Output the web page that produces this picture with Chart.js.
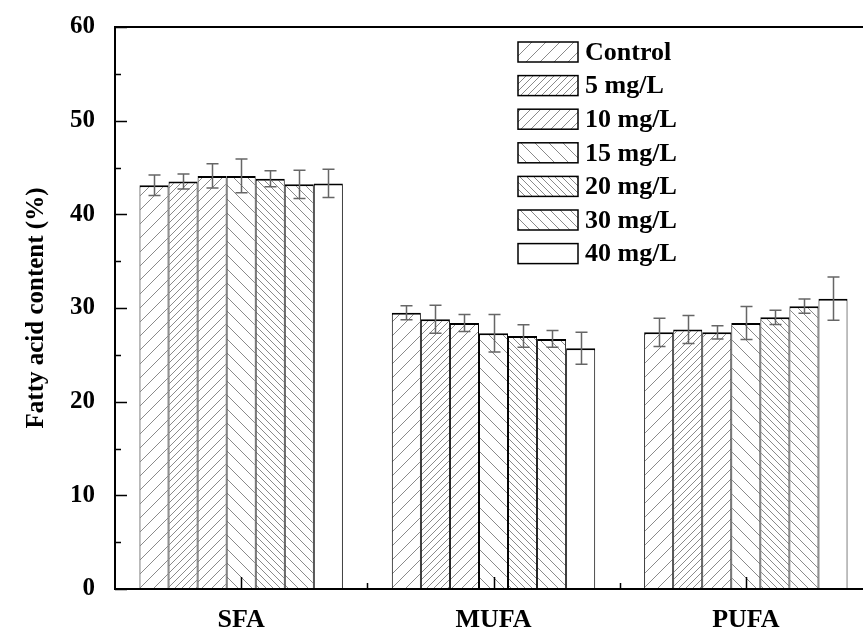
<!DOCTYPE html>
<html>
<head>
<meta charset="utf-8">
<script src="https://cdn.jsdelivr.net/npm/chart.js@4/dist/chart.umd.min.js"></script>
<style>
  html, body { margin: 0; padding: 0; background: #fff; overflow: hidden; }
  canvas { display: block; }
</style>
</head>
<body>
<canvas id="fattyChart" width="880" height="633"></canvas>
<script>
// data
const categories = ['SFA', 'MUFA', 'PUFA'];
const seriesLabels = ['Control', '5 mg/L', '10 mg/L', '15 mg/L', '20 mg/L', '30 mg/L', '40 mg/L'];

const controlMean = [43.1, 29.5, 27.4];
const mg5Mean     = [43.5, 28.8, 27.7];
const mg10Mean    = [44.1, 28.4, 27.4];
const mg15Mean    = [44.1, 27.3, 28.4];
const mg20Mean    = [43.8, 27.0, 29.0];
const mg30Mean    = [43.2, 26.7, 30.2];
const mg40Mean    = [43.3, 25.7, 31.0];

const controlErr = [1.1, 0.75, 1.5];
const mg5Err     = [0.8, 1.5, 1.5];
const mg10Err    = [1.3, 0.9, 0.7];
const mg15Err    = [1.8, 2.0, 1.75];
const mg20Err    = [0.85, 1.2, 0.75];
const mg30Err    = [1.5, 0.9, 0.75];
const mg40Err    = [1.5, 1.7, 2.3];

const means = [controlMean, mg5Mean, mg10Mean, mg15Mean, mg20Mean, mg30Mean, mg40Mean];
const errs = [controlErr, mg5Err, mg10Err, mg15Err, mg20Err, mg30Err, mg40Err];

// hatch: direction and spacing (px), null = plain white
const hatches = [['/', 14], ['/', 7], ['/', 10], ['\\', 14], ['\\', 7], ['\\', 10], null];

function makeHatch(dir, s) {
    const c = document.createElement('canvas');
    c.width = s; c.height = s;
    const g = c.getContext('2d');
    g.fillStyle = '#fff';
    g.fillRect(0, 0, s, s);
    g.strokeStyle = '#8a8a8a';
    g.lineWidth = 1;
    g.beginPath();
    if (dir === '/') {
        g.moveTo(0, s); g.lineTo(s, 0);
        g.moveTo(-2, 2); g.lineTo(2, -2);
        g.moveTo(s - 2, s + 2); g.lineTo(s + 2, s - 2);
    } else {
        g.moveTo(0, 0); g.lineTo(s, s);
        g.moveTo(-2, s - 2); g.lineTo(2, s + 2);
        g.moveTo(s - 2, -2); g.lineTo(s + 2, 2);
    }
    g.stroke();
    return g.createPattern(c, 'repeat');
}

const FONT = '"Liberation Serif", "Times New Roman", serif';

const frameAndTicks = {
    id: 'frameAndTicks',
    afterDraw(chart) {
        const ctx = chart.ctx;
        const a = chart.chartArea;
        const ys = chart.scales.y, xs = chart.scales.x;
        ctx.save();
        ctx.strokeStyle = '#000';
        ctx.lineWidth = 2;
        ctx.strokeRect(a.left, a.top, a.right - a.left, a.bottom - a.top);
        ctx.lineWidth = 1.5;
        ctx.beginPath();
        // y ticks, pointing inward
        for (let v = 0; v <= 60; v += 5) {
            const py = Math.round(ys.getPixelForValue(v)) + 0.5;
            const len = v % 10 === 0 ? 12 : 6;
            ctx.moveTo(a.left, py); ctx.lineTo(a.left + len, py);
        }
        // x ticks, major at categories, minor in between
        for (let i = 0; i < categories.length; i++) {
            const px = Math.round(xs.getPixelForValue(i)) + 0.5;
            ctx.moveTo(px, a.bottom); ctx.lineTo(px, a.bottom - 12);
            if (i < categories.length - 1) {
                const mx = Math.round(xs.getPixelForValue(i + 0.5)) + 0.5;
                ctx.moveTo(mx, a.bottom); ctx.lineTo(mx, a.bottom - 6);
            }
        }
        ctx.stroke();
        ctx.restore();
    }
};

const errorBars = {
    id: 'errorBars',
    afterDatasetsDraw(chart) {
        const ctx = chart.ctx;
        const ys = chart.scales.y;
        ctx.save();
        ctx.strokeStyle = '#666';
        ctx.lineWidth = 1.5;
        chart.data.datasets.forEach((ds, di) => {
            const meta = chart.getDatasetMeta(di);
            meta.data.forEach((bar, i) => {
                const x = Math.round(bar.x) + 0.5;
                const hi = ys.getPixelForValue(ds.data[i] + errs[di][i]);
                const lo = ys.getPixelForValue(ds.data[i] - errs[di][i]);
                ctx.beginPath();
                ctx.moveTo(x, hi); ctx.lineTo(x, lo);
                ctx.moveTo(x - 6, hi); ctx.lineTo(x + 6, hi);
                ctx.moveTo(x - 6, lo); ctx.lineTo(x + 6, lo);
                ctx.stroke();
            });
        });
        ctx.restore();
    }
};

const boxLegend = {
    id: 'boxLegend',
    afterDraw(chart) {
        const ctx = chart.ctx;
        ctx.save();
        ctx.font = 'bold 26px ' + FONT;
        ctx.textBaseline = 'middle';
        chart.data.datasets.forEach((ds, i) => {
            const cy = 52 + i * 33.6;
            ctx.fillStyle = ds.backgroundColor;
            ctx.fillRect(518, cy - 10, 60, 20);
            ctx.strokeStyle = '#000';
            ctx.lineWidth = 1.5;
            ctx.strokeRect(518, cy - 10, 60, 20);
            ctx.fillStyle = '#000';
            ctx.fillText(ds.label, 585, cy + 1);
        });
        ctx.restore();
    }
};

new Chart(document.getElementById('fattyChart'), {
    type: 'bar',
    data: {
        labels: categories,
        datasets: seriesLabels.map((label, i) => ({
            label: label,
            data: means[i],
            backgroundColor: hatches[i] ? makeHatch(hatches[i][0], hatches[i][1]) : '#fff',
            borderColor: '#000',
            borderWidth: { top: 2, left: 1, right: 1, bottom: 0 },
            categoryPercentage: 0.806,
            barPercentage: 1.0
        }))
    },
    options: {
        responsive: false,
        animation: false,
        layout: { padding: { top: 25, right: 8, left: 0, bottom: 0 } },
        plugins: {
            legend: { display: false },
            tooltip: { enabled: false }
        },
        scales: {
            x: {
                grid: { display: false },
                border: { display: false },
                ticks: {
                    color: '#000',
                    padding: 8,
                    font: { family: FONT, size: 26, weight: 'bold' }
                },
                afterFit(scale) { scale.height = 44; }
            },
            y: {
                min: 0,
                max: 60,
                grid: { display: false },
                border: { display: false },
                ticks: {
                    stepSize: 10,
                    color: '#000',
                    padding: 12,
                    font: { family: FONT, size: 25, weight: 'bold' }
                },
                title: {
                    display: true,
                    text: 'Fatty acid content (%)',
                    color: '#000',
                    padding: { top: 22, bottom: 0 },
                    font: { family: FONT, size: 25, weight: 'bold' }
                },
                afterFit(scale) { scale.width = 115; }
            }
        }
    },
    plugins: [errorBars, frameAndTicks, boxLegend]
});
</script>
</body>
</html>
